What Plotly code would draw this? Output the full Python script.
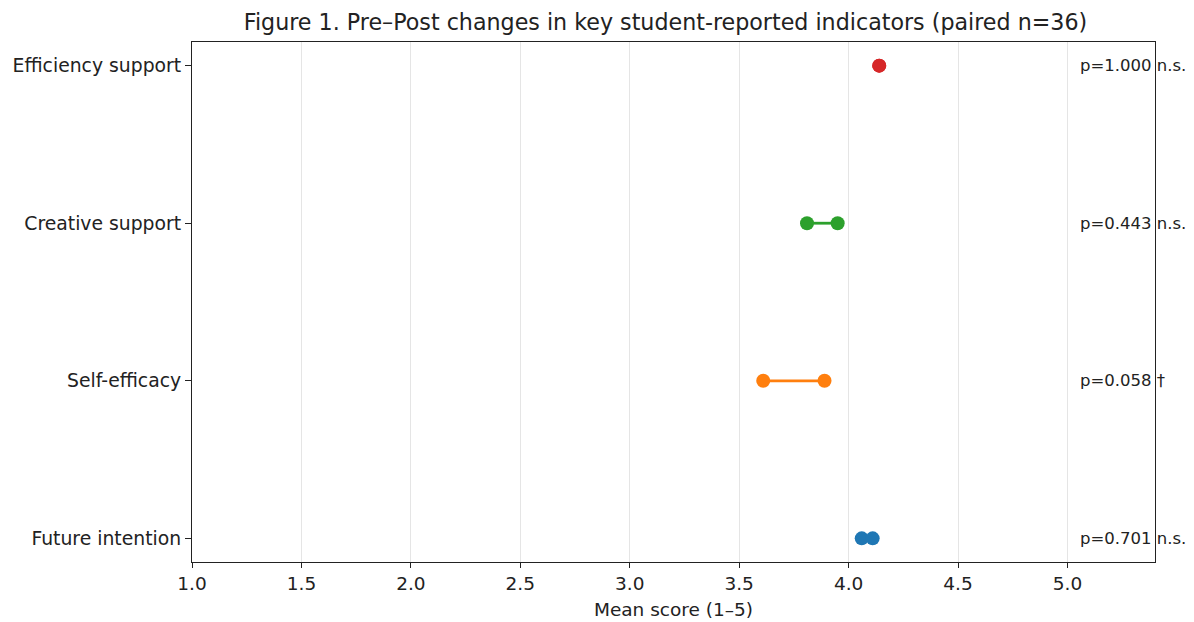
import plotly.graph_objects as go

indicators = ["Future intention", "Self-efficacy", "Creative support", "Efficiency support"]
pre_means = [4.06, 3.61, 3.81, 4.14]
post_means = [4.11, 3.89, 3.95, 4.14]
p_values = ["p=0.701", "p=0.058", "p=0.443", "p=1.000"]
sig_marks = ["n.s.", "†", "n.s.", "n.s."]
colors = ["#1f77b4", "#ff7f0e", "#2ca02c", "#d62728"]
x_ticks = [1.0, 1.5, 2.0, 2.5, 3.0, 3.5, 4.0, 4.5, 5.0]

FONT = "DejaVu Sans"
W, H = 1194, 622
OFF = 8  # page body margin
fig = go.Figure()
for i, name in enumerate(indicators):
    fig.add_trace(go.Scatter(
        x=[pre_means[i], post_means[i]], y=[i, i],
        mode="lines+markers",
        line=dict(color=colors[i], width=2.8),
        marker=dict(color=colors[i], size=14),
        showlegend=False, name=name,
    ))
    fig.add_annotation(x=5.05, y=i, xref="x", yref="y",
                       text=f"{p_values[i]} {sig_marks[i]}",
                       showarrow=False, xanchor="left", yanchor="middle",
                       font=dict(family=FONT, size=16.5, color="#222"))

fig.update_layout(
    width=W, height=H,
    paper_bgcolor="white", plot_bgcolor="white",
    margin=dict(l=192 - OFF, r=W - 1155 + OFF, t=42 - OFF, b=H - 562 + OFF, pad=0,
                autoexpand=False),
    title=dict(text="Figure 1. Pre–Post changes in key student-reported indicators (paired n=36)",
               x=(665.5 - OFF) / W, xref="container", xanchor="center",
               y=1 - (22 - OFF) / H, yref="container", yanchor="middle",
               font=dict(family=FONT, size=22.2, color="#222")),
    font=dict(family=FONT, size=18, color="#222"),
)
fig.update_xaxes(
    range=[1.0, 5.4], tickvals=x_ticks, ticktext=[f"{v:.1f}" for v in x_ticks],
    showgrid=True, gridcolor="#e5e5e5", gridwidth=1, automargin=False,
    showline=True, linecolor="#222", linewidth=1.2, mirror=True,
    ticks="outside", ticklen=5, tickcolor="#222", zeroline=False,
    title=dict(text="Mean score (1–5)", font=dict(family=FONT, size=18.5), standoff=9),
    tickfont=dict(family=FONT, size=18.5),
)
fig.update_yaxes(
    range=[-0.15, 3.15], tickvals=list(range(len(indicators))), ticktext=indicators,
    showgrid=False, showline=True, linecolor="#222", linewidth=1.2, mirror=True,
    ticks="outside", ticklen=6, tickcolor="#222", zeroline=False, automargin=False,
    tickfont=dict(family=FONT, size=18.8),
)
fig.write_html("out.html")
